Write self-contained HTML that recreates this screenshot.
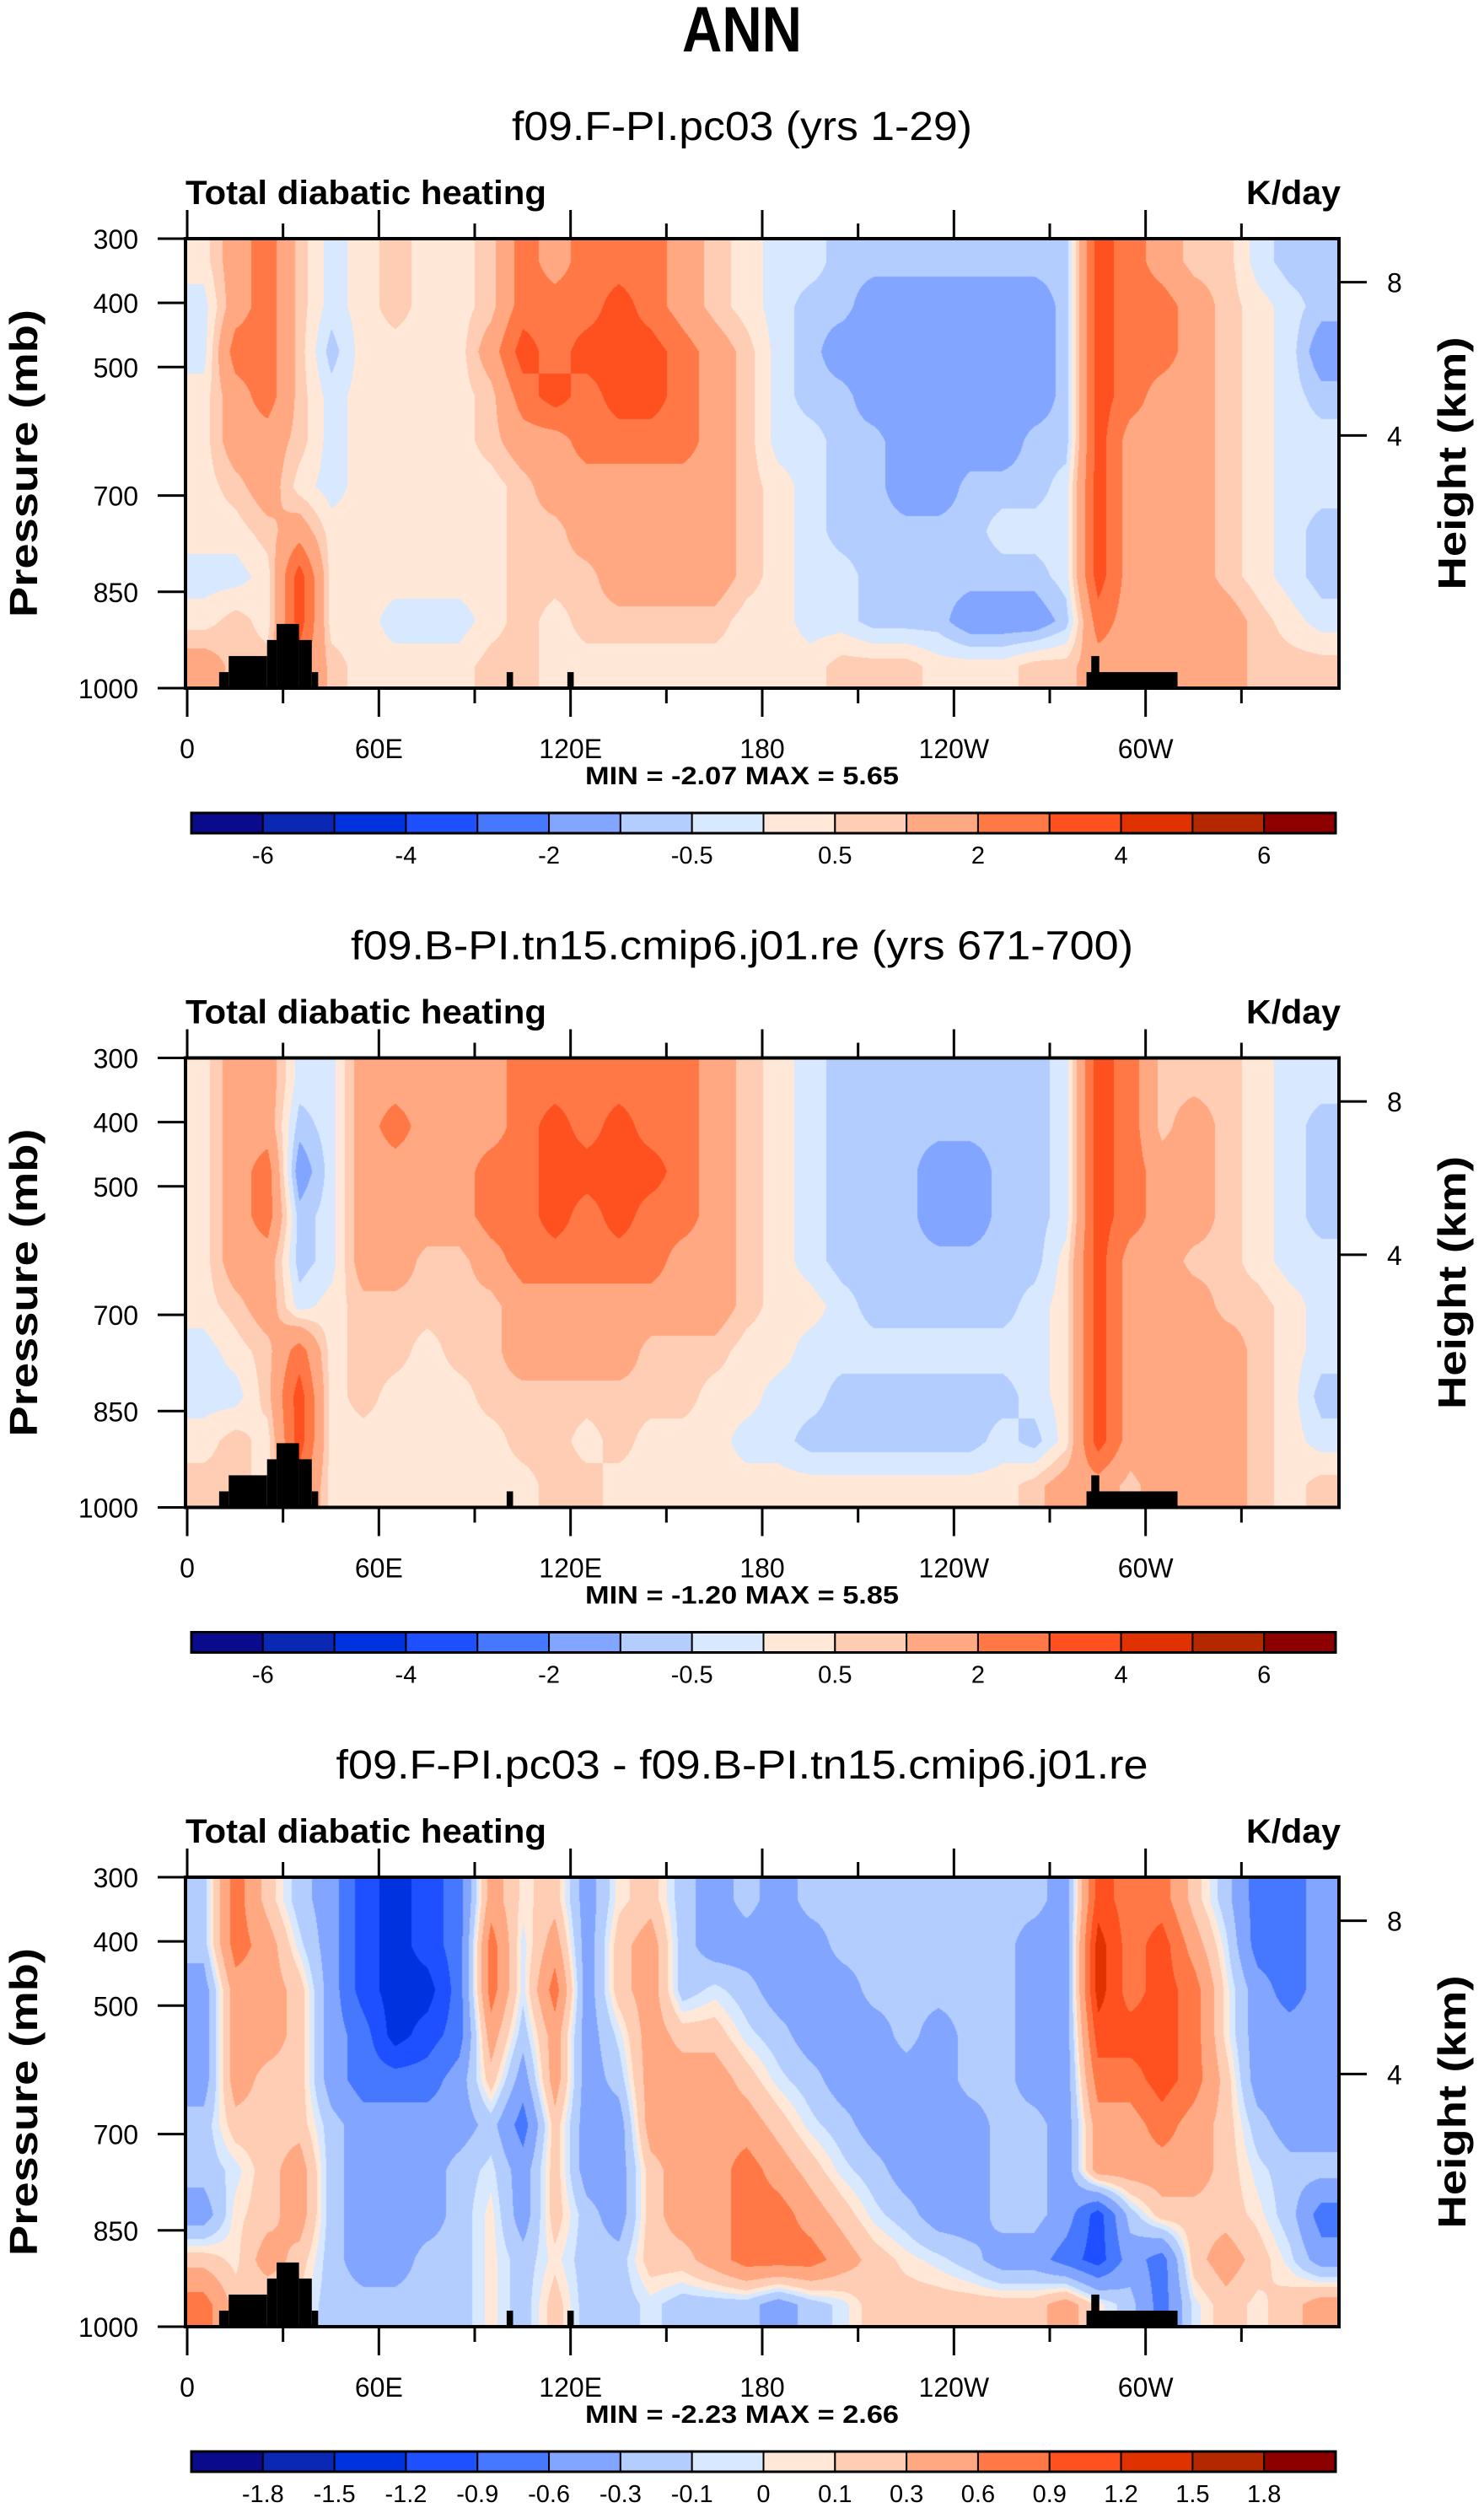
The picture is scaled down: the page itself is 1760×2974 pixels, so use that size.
<!DOCTYPE html>
<html><head><meta charset="utf-8">
<style>
html,body{margin:0;padding:0;background:#fff;}
#wrap{position:relative;width:1760px;height:2974px;overflow:hidden;}
canvas{position:absolute;left:222px;}
svg{position:absolute;left:0;top:0;}
text{font-family:"Liberation Sans",sans-serif;}
</style></head>
<body>
<div id="wrap">
<canvas id="c0" width="1364" height="533" style="top:283px"></canvas>
<canvas id="c1" width="1364" height="533" style="top:1254.5px"></canvas>
<canvas id="c2" width="1364" height="533" style="top:2226px"></canvas>
<svg id="ov" width="1760" height="2974"></svg>
</div>
<script>
// ---- data ----
const lonCenters=[5,15,25,35,45,55,65,75,85,95,105,115,125,135,145,155,165,175,185,195,205,215,225,235,245,255,265,275,285,295,305,315,325,335,345,355];
const pCenters=[335,405,475,545,615,685,755,825,895,965];
const lonTickVals=[0,60,120,180,240,300];
const lonTickLabels=["0","60E","120E","180","120W","60W"];
const pTickVals=[300,400,500,700,850,1000];
const kmTickVals=[8,4];
const levelsFull=[-6,-5,-4,-3,-2,-1,-0.5,0,0.5,1,2,3,4,5,6];
const levelLabelsFull=["-6","","-4","","-2","","-0.5","","0.5","","2","","4","","6"];
const levelsDiff=[-1.8,-1.5,-1.2,-0.9,-0.6,-0.3,-0.1,0,0.1,0.3,0.6,0.9,1.2,1.5,1.8];
const levelLabelsDiff=["-1.8","-1.5","-1.2","-0.9","-0.6","-0.3","-0.1","0","0.1","0.3","0.6","0.9","1.2","1.5","1.8"];
const statsF=["-2.07","5.65"];
const statsB=["-1.20","5.85"];
const statsD=["-2.23","2.66"];
const fieldF=[
[.25,1.5,2.5,.75,-.25,.25,.75,.25,.25,.75,2.5,1.5,2.5,2.5,2.5,1.5,.75,.25,-.25,-.25,-.75,-.75,-.75,-.75,-.75,-.75,-.75,-.75,3.5,2.5,1.5,.75,.75,-.25,-.75,-.75],
[-.25,1.5,2.5,.75,-.25,.25,.75,.25,.25,.75,2.5,2.5,2.5,3.5,2.5,1.5,.75,.25,-.25,-.75,-.75,-1.5,-1.5,-1.5,-1.5,-1.5,-1.5,-.75,3.5,2.5,2.5,1.5,.75,.25,-.25,-.75],
[-.25,2.5,2.5,.75,-.75,.25,.25,.25,.25,1.5,3.5,2.5,3.5,3.5,3.5,2.5,1.5,.75,-.25,-.75,-1.5,-1.5,-1.5,-1.5,-1.5,-1.5,-1.5,-.75,3.5,2.5,2.5,1.5,.75,.25,-.25,-1.5],
[.25,1.5,2.5,.75,-.25,.25,.25,.25,.25,.75,2.5,3.5,2.5,3.5,3.5,2.5,1.5,.75,-.25,-.75,-.75,-1.5,-1.5,-1.5,-1.5,-1.5,-1.5,-.75,3.5,2.5,1.5,1.5,.75,.25,-.25,-.75],
[.25,1.5,1.5,.75,-.25,.25,.25,.25,.25,.75,1.5,1.5,2.5,2.5,2.5,2.5,1.5,.75,-.25,-.25,-.75,-.75,-1.5,-1.5,-1.5,-1.5,-.75,-.75,3.5,1.5,1.5,1.5,.75,.25,-.25,-.25],
[.25,.75,1.5,.25,-.25,.25,.25,.25,.25,.25,.75,1.5,1.5,1.5,1.5,1.5,1.5,.75,.25,-.25,-.75,-.75,-1.5,-1.5,-.75,-.75,-.75,-.25,3.5,1.5,1.5,1.5,.75,.25,-.25,-.25],
[.25,.25,.75,1.5,.25,.25,.25,.25,.25,.25,.75,.75,1.5,1.5,1.5,1.5,1.5,.75,.25,-.25,-.75,-.75,-.75,-.75,-.75,-.25,-.25,-.25,3.5,1.5,1.5,1.5,.75,.25,-.25,-.75],
[-.25,-.25,.25,3.5,.25,.25,.25,.25,.25,.25,.75,.75,.75,1.5,1.5,1.5,1.5,.75,.25,-.25,-.25,-.75,-.75,-.75,-.75,-.75,-.75,-.25,3.5,1.5,1.5,1.5,.75,.25,-.25,-.75],
[.25,.75,.25,3.5,.25,.25,-.25,-.25,-.25,.25,.75,.25,.75,.75,.75,.75,.75,.25,.25,-.25,-.25,-.75,-.75,-.75,-1.5,-1.5,-1.5,-.75,2.5,1.5,1.5,1.5,1.5,.75,.25,-.25],
[1.5,.75,.75,2.5,.75,.25,.25,.25,.25,.75,.75,.25,.25,.25,.25,.25,.25,.25,.25,.25,.75,.75,.75,.25,.25,.25,.75,.75,1.5,1.5,1.5,1.5,1.5,.75,.75,.75]
];
const fieldB=[
[.25,1.5,1.5,-.25,-.25,1.5,1.5,1.5,1.5,1.5,2.5,2.5,2.5,2.5,2.5,2.5,1.5,.75,.25,-.25,-.75,-.75,-.75,-.75,-.75,-.75,-.75,-.25,3.5,2.5,.75,.75,.75,.25,-.25,-.25],
[.25,1.5,1.5,-.75,-.25,1.5,2.5,1.5,1.5,1.5,2.5,3.5,2.5,3.5,2.5,2.5,1.5,.75,.25,-.25,-.75,-.75,-.75,-.75,-.75,-.75,-.75,-.25,3.5,2.5,.75,1.5,.75,.25,-.25,-.75],
[.25,1.5,2.5,-1.5,-.25,1.5,1.5,1.5,1.5,2.5,2.5,3.5,3.5,3.5,3.5,2.5,1.5,.75,.25,-.25,-.75,-.75,-.75,-1.5,-1.5,-.75,-.75,-.25,3.5,2.5,1.5,1.5,.75,.25,-.25,-.75],
[.25,1.5,2.5,-.75,-.25,1.5,1.5,1.5,1.5,2.5,2.5,3.5,2.5,3.5,2.5,2.5,1.5,.75,.25,-.25,-.75,-.75,-.75,-1.5,-1.5,-.75,-.75,-.25,3.5,2.5,1.5,1.5,.75,.25,-.25,-.75],
[.25,1.5,1.5,-.75,-.25,1.5,1.5,.75,.75,1.5,2.5,2.5,2.5,2.5,2.5,1.5,1.5,.75,.25,-.25,-.75,-.75,-.75,-.75,-.75,-.75,-.75,.25,3.5,1.5,1.5,.75,.75,.25,-.25,-.25],
[.25,.75,1.5,-.25,.25,.75,.75,.75,.75,.75,1.5,1.5,1.5,1.5,1.5,1.5,1.5,.75,.25,.25,-.25,-.75,-.75,-.75,-.75,-.75,-.25,.25,3.5,1.5,1.5,1.5,.75,.75,.25,-.25],
[-.25,.25,.75,2.5,.25,.75,.75,.25,.75,.75,1.5,1.5,1.5,1.5,.75,.75,.75,.25,.25,-.25,-.25,-.25,-.25,-.25,-.25,-.25,-.25,.25,3.5,1.5,1.5,1.5,1.5,.75,.25,-.25],
[-.25,-.25,.75,3.5,.25,.75,.25,.25,.25,.75,.75,.75,.75,.75,.75,.75,.25,.25,-.25,-.25,-.75,-.75,-.75,-.75,-.75,-.75,-.25,.25,3.5,1.5,1.5,1.5,1.5,.75,.25,-.75],
[.25,.75,.25,3.5,.25,.25,.25,.25,.25,.25,.75,.75,.25,.75,.25,.25,.25,-.25,-.25,-.75,-.75,-.75,-.75,-.75,-.75,-.25,-.75,.25,3.5,1.5,1.5,1.5,1.5,.75,.25,-.25],
[.75,.75,.25,2.5,.25,.25,.25,.25,.25,.25,.25,.75,.75,.25,.25,.25,.25,.25,.25,.25,.25,.25,.25,.25,.25,.25,.75,1.5,1.5,.75,1.5,1.5,1.5,.75,.25,.75]
];
const fieldD=[
[-.2,.75,.2,-.2,-.45,-1.05,-1.35,-1.05,-.75,.45,.05,.2,-.45,.05,.2,-.2,-.45,-.2,-.45,-.2,-.2,-.2,-.2,-.2,-.2,-.2,-.2,-.45,1.05,.75,.75,.2,-.2,-.75,-.75,-.45],
[-.2,.75,.45,-.05,-.45,-1.05,-1.35,-1.05,-.75,.75,-.05,.45,-.45,.2,.45,-.2,-.45,-.45,-.45,-.45,-.2,-.2,-.2,-.2,-.2,-.2,-.45,-.45,1.35,.75,1.05,.45,-.05,-.75,-.75,-.45],
[-.45,.45,.45,.2,-.45,-1.05,-1.35,-1.35,-.75,.75,-.05,.75,-.45,.2,.45,-.2,-.05,-.2,-.45,-.45,-.45,-.2,-.2,-.2,-.2,-.2,-.45,-.45,1.35,.75,1.05,.75,.05,-.45,-.75,-.45],
[-.45,.45,.45,.2,-.45,-.75,-1.35,-1.05,-.75,.45,-.2,.45,-.45,-.05,.45,.2,.2,-.05,-.2,-.45,-.45,-.45,-.2,-.45,-.2,-.2,-.45,-.45,1.05,1.05,1.05,.75,.05,-.45,-.45,-.45],
[-.45,.45,.2,.2,-.45,-.75,-.75,-.75,-.45,.2,-.45,.45,-.45,-.2,.45,.45,.45,.2,-.05,-.2,-.45,-.45,-.45,-.45,-.2,-.2,-.45,-.45,.75,.75,1.05,.75,.2,-.45,-.45,-.45],
[-.2,.2,.2,.2,-.2,-.45,-.45,-.45,-.45,-.2,-.75,.2,-.45,-.45,.45,.45,.45,.45,.2,-.05,-.2,-.45,-.45,-.45,-.45,-.2,-.2,-.45,.45,.45,.75,.45,.2,-.2,-.45,-.45],
[-.2,-.05,.2,.45,-.2,-.45,-.45,-.45,-.2,-.05,-.45,.2,-.45,-.45,.2,.45,.45,.75,.45,.2,-.05,-.2,-.45,-.45,-.45,-.2,-.2,-.45,.45,.45,.45,.45,.2,-.05,-.2,-.2],
[-.45,.05,.2,.45,-.2,-.45,-.45,-.45,-.2,.05,-.45,.2,-.2,-.45,.2,.45,.45,.75,.75,.45,.2,-.05,-.2,-.45,-.45,-.2,-.2,-.45,-1.05,-.2,.2,.2,.2,.05,-.2,-.75],
[.2,.05,.45,.2,-.2,-.45,-.45,-.2,-.2,.05,-.2,.05,-.2,-.2,.2,.2,.45,.75,.75,.75,.45,.2,.05,-.05,-.2,-.45,-.45,-.75,-1.05,-.45,-.75,.2,.45,.2,-.05,-.45],
[.75,.2,.05,.05,-.2,-.2,-.2,-.2,-.2,.05,-.2,.2,-.2,-.2,-.05,-.2,-.2,-.2,-.45,-.2,-.05,.2,.2,.2,.2,.2,.2,.45,.05,-.2,-.75,-.05,.2,.05,.2,.45]
];
const palette=["#0a0a8c","#0a28b4","#0032e0","#1e50ff","#4678ff","#82a5ff","#b4cdff","#d7e8ff","#ffe8d7","#ffcdb4","#ffa882","#ff7846","#ff5020","#e03200","#b42800","#8c0000"];
const landA=[[10,13,975],[13,25,950],[25,28,925],[28,35,900],[35,39,925],[39,41,975],[100,102,975],[119,121,975],[281.5,310,975],[283,285.5,950]];
const landB=[[10,13,975],[13,25,950],[25,28,925],[28,35,900],[35,39,925],[39,41,975],[100,102,975],[281.5,310,975],[283,285.5,950]];

const panels=[
 {top:283,field:fieldF,levels:levelsFull,labels:levelLabelsFull,stats:statsF,land:landA,title:"f09.F-PI.pc03 (yrs 1-29)",tw:546,name:"f-case"},
 {top:1254.5,field:fieldB,levels:levelsFull,labels:levelLabelsFull,stats:statsB,land:landB,title:"f09.B-PI.tn15.cmip6.j01.re (yrs 671-700)",tw:928,name:"b-case"},
 {top:2226,field:fieldD,levels:levelsDiff,labels:levelLabelsDiff,stats:statsD,land:landA,title:"f09.F-PI.pc03 - f09.B-PI.tn15.cmip6.j01.re",tw:963,name:"difference"}
];
const X0=222,W=1364,H=533;
const lonToX=lon=>X0+lon*W/360;
const pToY=(p,top)=>top+(p-300)*H/700;
const kmToP=km=>1000*Math.exp(-km/8.0);

function hex(c){return [parseInt(c.substr(1,2),16),parseInt(c.substr(3,2),16),parseInt(c.substr(5,2),16)];}
const palRGB=palette.map(hex);
function classOf(v,levels){let k=0;for(const l of levels){if(v>=l)k++;}return k;}
function sample(field,lon,p){
  let fi=(lon-lonCenters[0])/(lonCenters[1]-lonCenters[0]);
  let fj=(p-pCenters[0])/(pCenters[1]-pCenters[0]);
  fi=Math.max(0,Math.min(lonCenters.length-1,fi));
  fj=Math.max(0,Math.min(pCenters.length-1,fj));
  const i0=Math.min(Math.floor(fi),lonCenters.length-2), j0=Math.min(Math.floor(fj),pCenters.length-2);
  const a=fi-i0,b=fj-j0;
  const v00=field[j0][i0],v10=field[j0][i0+1],v01=field[j0+1][i0],v11=field[j0+1][i0+1];
  return (v00*(1-a)+v10*a)*(1-b)+(v01*(1-a)+v11*a)*b;
}
panels.forEach((pn,k)=>{
  const cv=document.getElementById('c'+k);
  const ctx=cv.getContext('2d');
  const img=ctx.createImageData(W,H);
  for(let y=0;y<H;y++){
    const p=300+y*700/H;
    for(let x=0;x<W;x++){
      const lon=x*360/W;
      const c=palRGB[classOf(sample(pn.field,lon,p),pn.levels)];
      const o=(y*W+x)*4;img.data[o]=c[0];img.data[o+1]=c[1];img.data[o+2]=c[2];img.data[o+3]=255;
    }
  }
  ctx.putImageData(img,0,0);
});

const NS="http://www.w3.org/2000/svg";
const svg=document.getElementById('ov');
function mk(tag,attrs,parent){const e=document.createElementNS(NS,tag);for(const k in attrs)e.setAttribute(k,attrs[k]);(parent||svg).appendChild(e);return e;}
function txt(s,attrs,parent){const e=mk('text',attrs,parent);e.textContent=s;return e;}

const t0=txt("ANN",{x:880,y:61,'text-anchor':'middle','font-size':76,'font-weight':'bold',textLength:142,lengthAdjust:'spacingAndGlyphs'});



panels.forEach((pn,k)=>{
  const T=pn.top,B=T+H;
  const g=mk('g',{});
  
  
  const st=txt(pn.title,{x:880,y:T-117,'text-anchor':'middle','font-size':48,textLength:pn.tw,lengthAdjust:'spacingAndGlyphs'},g);
  
  
  const lt=txt("Total diabatic heating",{x:220,y:T-41,'font-size':40,'font-weight':'bold',textLength:428,lengthAdjust:'spacingAndGlyphs'},g);
  
  
  const ut=txt("K/day",{x:1590,y:T-41,'text-anchor':'end','font-size':40,'font-weight':'bold',textLength:112,lengthAdjust:'spacingAndGlyphs'},g);
  
  
  pn.land.forEach(L=>{
    const r=mk('rect',{x:lonToX(L[0]),y:pToY(L[2],T),width:lonToX(L[1])-lonToX(L[0]),height:B-pToY(L[2],T),fill:'#000'},g);
    
    
  });
  const fr=mk('rect',{x:220,y:T,width:1368,height:H,fill:'none',stroke:'#000','stroke-width':4},g);
  
  
  for(let lon=0;lon<=330;lon+=30){
    const major=lon%60===0, x=lonToX(lon), len=major?34:18;
    const a=mk('line',{x1:x,x2:x,y1:T,y2:T-len,stroke:'#000','stroke-width':3},g);
    
    
    const b=mk('line',{x1:x,x2:x,y1:B,y2:B+len,stroke:'#000','stroke-width':3},g);
    
    
  }
  lonTickVals.forEach((lon,i)=>{
    const e=txt(lonTickLabels[i],{x:lonToX(lon),y:B+83,'text-anchor':'middle','font-size':32},g);
    
    
  });
  pTickVals.forEach(p=>{
    const y=pToY(p,T);
    const l=mk('line',{x1:187,x2:220,y1:y,y2:y,stroke:'#000','stroke-width':3},g);
    
    
    const e=txt(String(p),{x:164,y:y+12,'text-anchor':'end','font-size':32},g);
    
    
  });
  kmTickVals.forEach(km=>{
    const y=pToY(kmToP(km),T);
    const l=mk('line',{x1:1588,x2:1621,y1:y,y2:y,stroke:'#000','stroke-width':3},g);
    
    
    const e=txt(String(km),{x:1645,y:y+12,'font-size':32},g);
    
    
  });
  const yc=T+H/2;
  const ya=txt("Pressure (mb)",{x:0,y:0,'text-anchor':'middle','font-size':46,'font-weight':'bold',transform:`translate(44,${yc}) rotate(-90)`,textLength:365,lengthAdjust:'spacingAndGlyphs'},g);
  
  
  const yb=txt("Height (km)",{x:0,y:0,'text-anchor':'middle','font-size':46,'font-weight':'bold',transform:`translate(1738,${yc}) rotate(-90)`,textLength:300,lengthAdjust:'spacingAndGlyphs'},g);
  
  
  const mm=txt(`MIN = ${pn.stats[0]}  MAX = ${pn.stats[1]}`,{x:880,y:B+114,'text-anchor':'middle','font-size':30,'font-weight':'bold',textLength:372,lengthAdjust:'spacingAndGlyphs','xml:space':'preserve'},g);
  
  
  const cb=mk('g',{},g);
  
  
  const cx0=227,cx1=1584,bw=(cx1-cx0)/palette.length,cy=B+148;
  palette.forEach((c,i)=>{
    const r=mk('rect',{x:cx0+i*bw,y:cy,width:bw,height:24,fill:c,stroke:'#000','stroke-width':2},cb);
    
    
  });
  mk('rect',{x:cx0,y:cy,width:cx1-cx0,height:24,fill:'none',stroke:'#000','stroke-width':3},cb);
  pn.labels.forEach((s,i)=>{
    if(!s)return;
    const e=txt(s,{x:cx0+(i+1)*bw,y:B+208,'text-anchor':'middle','font-size':29},cb);
    
    
  });
});
</script>
</body></html>
